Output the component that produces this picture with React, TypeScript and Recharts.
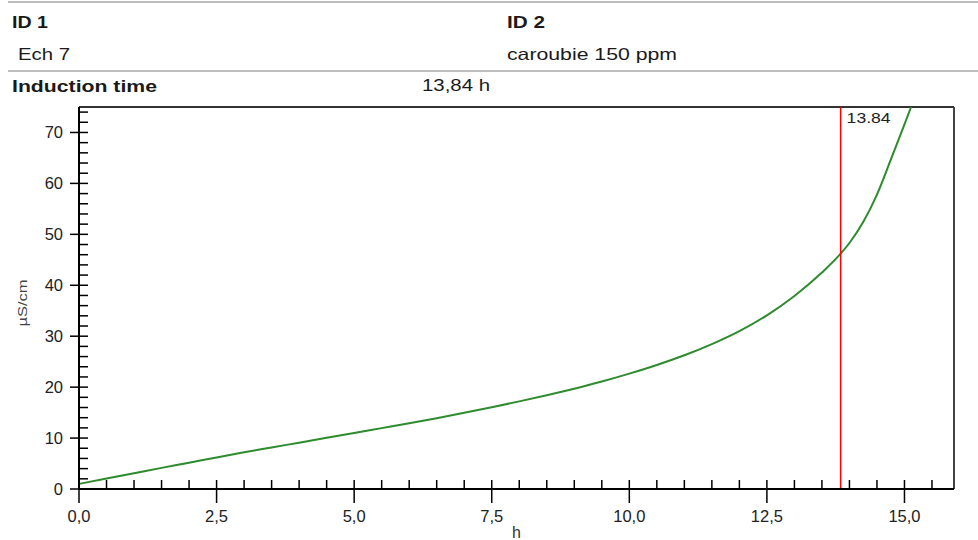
import React from 'react';
import { LineChart, Line, XAxis, YAxis, ReferenceLine } from 'recharts';

// measurement data (hours vs conductivity)
const hours = [0, 0.5, 1, 1.5, 2, 2.5, 3, 3.5, 4, 4.5, 5, 5.5, 6, 6.5, 7, 7.5, 8, 8.5, 9, 9.5, 10, 10.5, 11, 11.5, 12, 12.5, 13, 13.5, 13.84, 14, 14.25, 14.5, 14.75, 15, 15.12];
const conductivity = [1.0, 2.05, 3.1, 4.15, 5.15, 6.2, 7.2, 8.15, 9.1, 10.05, 11.0, 11.95, 12.9, 13.9, 14.95, 16.05, 17.2, 18.4, 19.7, 21.1, 22.65, 24.35, 26.25, 28.45, 31.0, 34.1, 37.9, 42.5, 46.2, 48.3, 52.4, 57.8, 64.6, 71.6, 75.0];

const xTicks = [0, 0.5, 1, 1.5, 2, 2.5, 3, 3.5, 4, 4.5, 5, 5.5, 6, 6.5, 7, 7.5, 8, 8.5, 9, 9.5, 10, 10.5, 11, 11.5, 12, 12.5, 13, 13.5, 14, 14.5, 15, 15.5];
const yTicks = [0, 2, 4, 6, 8, 10, 12, 14, 16, 18, 20, 22, 24, 26, 28, 30, 32, 34, 36, 38, 40, 42, 44, 46, 48, 50, 52, 54, 56, 58, 60, 62, 64, 66, 68, 70, 72, 74];
const xMax = 15.9;
const yMax = 75;
const inductionTime = 13.84;

const data = hours.map((h, i) => ({ h, v: conductivity[i] }));

const FONT = '"Liberation Sans", Arial, sans-serif';

const XTick = ({ x, y, payload }: any) => {
  const major = payload.value % 2.5 === 0;
  return (
    <g>
      <line x1={x} x2={x} y1={y - 9} y2={major ? y + 14 : y} stroke="#000" strokeWidth={1.5} />
      {major && (
        <text x={x} y={y + 32.5} textAnchor="middle" fontSize={16.5} fontFamily={FONT} fill="#222">
          {payload.value.toFixed(1).replace('.', ',')}
        </text>
      )}
    </g>
  );
};

const YTick = ({ x, y, payload }: any) => {
  const major = payload.value % 10 === 0;
  return (
    <g>
      <line x1={major ? x - 9 : x} x2={x + 9} y1={y} y2={y} stroke="#000" strokeWidth={1.5} />
      {major && (
        <text x={x - 16} y={y + 6} textAnchor="end" fontSize={16.5} fontFamily={FONT} fill="#222">
          {payload.value}
        </text>
      )}
    </g>
  );
};

const Header = () => (
  <svg width={978} height={100} style={{ position: 'absolute', left: 0, top: 0 }}>
    <line x1={8} x2={978} y1={2} y2={2} stroke="#bdbdbd" strokeWidth={2} />
    <line x1={8} x2={978} y1={71} y2={71} stroke="#bdbdbd" strokeWidth={2} />
    <g fontFamily={FONT} fontSize={16.5} fill="#1a1a1a">
      <text x={12} y={28} fontWeight="bold" textLength={36} lengthAdjust="spacingAndGlyphs">ID 1</text>
      <text x={18} y={59.5} textLength={52} lengthAdjust="spacingAndGlyphs">Ech 7</text>
      <text x={507} y={28} fontWeight="bold" textLength={38} lengthAdjust="spacingAndGlyphs">ID 2</text>
      <text x={507} y={59.5} textLength={170} lengthAdjust="spacingAndGlyphs">caroubie 150 ppm</text>
      <text x={12} y={91.7} fontWeight="bold" textLength={145} lengthAdjust="spacingAndGlyphs">Induction time</text>
      <text x={422} y={90.7} textLength={68} lengthAdjust="spacingAndGlyphs">13,84 h</text>
    </g>
  </svg>
);

export default function App() {
  return (
    <div style={{ position: 'absolute', left: 0, top: 0, width: 978, height: 540, background: '#fff' }}>
      <LineChart width={978} height={540} data={data} margin={{ top: 107, right: 24, bottom: 11, left: 19 }}>
        <XAxis
          dataKey="h"
          type="number"
          domain={[0, xMax]}
          ticks={xTicks}
          interval={0}
          tickSize={0}
          tickMargin={0}
          tickLine={false}
          axisLine={{ stroke: '#000', strokeWidth: 2 }}
          tick={(p: any) => <XTick {...p} />}
          height={40}
          allowDataOverflow
          label={{
            content: ({ viewBox }: any) => (
              <text x={viewBox.x + viewBox.width / 2} y={viewBox.y + 49} textAnchor="middle" fontSize={16} fontFamily={FONT} fill="#333">
                h
              </text>
            ),
          }}
        />
        <YAxis
          type="number"
          domain={[0, yMax]}
          ticks={yTicks}
          interval={0}
          tickSize={0}
          tickMargin={0}
          tickLine={false}
          axisLine={{ stroke: '#000', strokeWidth: 2 }}
          tick={(p: any) => <YTick {...p} />}
          width={60}
          allowDataOverflow
          label={{
            content: ({ viewBox }: any) => {
              const cx = viewBox.x + 8;
              const cy = viewBox.y + viewBox.height / 2 + 5;
              return (
                <text
                  x={cx}
                  y={cy}
                  transform={`rotate(-90 ${cx} ${cy})`}
                  textAnchor="middle"
                  fontSize={12}
                  fontFamily={FONT}
                  fill="#444"
                  textLength={47}
                  lengthAdjust="spacingAndGlyphs"
                >
                  µS/cm
                </text>
              );
            },
          }}
        />
        <ReferenceLine y={yMax} stroke="#333" strokeWidth={2} />
        <ReferenceLine x={xMax} stroke="#444" strokeWidth={2} />
        <Line type="monotone" dataKey="v" stroke="#2e8b2e" strokeWidth={2} dot={false} isAnimationActive={false} />
        <ReferenceLine
          x={inductionTime}
          stroke="#ff0000"
          strokeWidth={1.5}
          label={{
            content: ({ viewBox }: any) => (
              <text x={viewBox.x + 6} y={viewBox.y + 16} fontSize={15} fontFamily={FONT} fill="#222" textLength={44} lengthAdjust="spacingAndGlyphs">
                {inductionTime.toFixed(2)}
              </text>
            ),
          }}
        />
      </LineChart>
      <Header />
    </div>
  );
}
